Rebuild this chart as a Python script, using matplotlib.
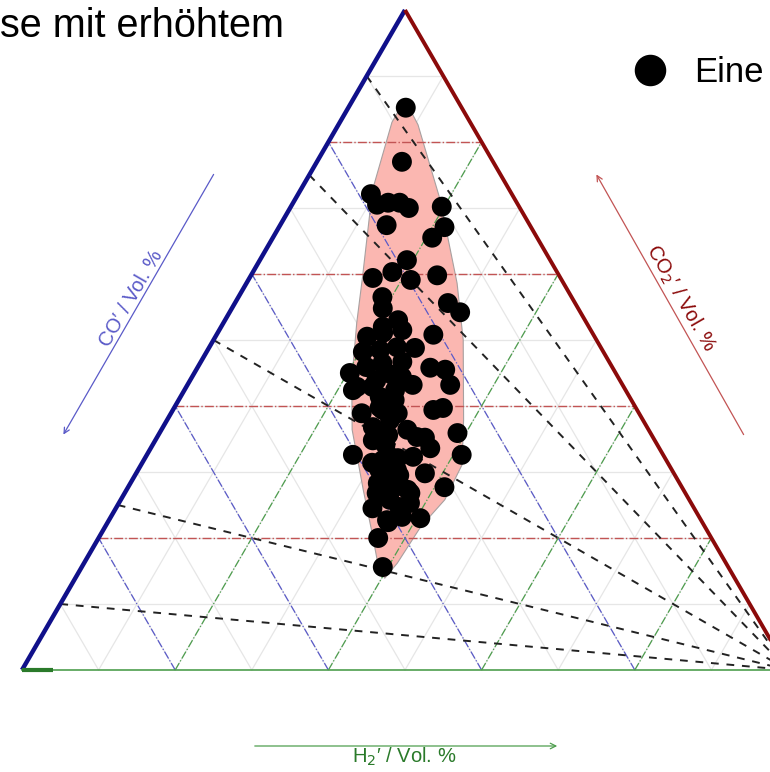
# Ternary plot of gas composition (CO2', CO', H2') with single measurements

import matplotlib
matplotlib.use("Agg")
import matplotlib.pyplot as plt
from matplotlib.patches import Polygon
import numpy as np

plt.rcParams["font.family"] = ["Liberation Sans", "DejaVu Sans"]

COLORS = {
    "co": "#10108a",
    "co_light": "#5a5ac8",
    "co2": "#8b0a0a",
    "co2_light": "#c25454",
    "h2": "#4e9e4e",
    "h2_dark": "#2a7a2a",
    "grid": "#e6e6e6",
    "hull": "#fbb7b1",
}

# single measurements, volume fractions in %
co2_vals = [85.2, 77.0, 72.1, 70.5, 70.8, 70.8, 70.0, 70.2, 67.1, 65.5, 67.4, 62.1,
            60.3, 59.4, 59.1, 59.8, 56.5, 54.8, 55.6, 54.2, 53.0, 52.0,
            50.5, 51.1, 51.5, 50.8, 48.2, 48.5, 48.9, 48.8, 45.0, 45.9, 46.5, 46.7,
            45.8, 45.5, 43.2, 43.2, 42.4, 42.4, 42.9, 38.9, 39.8, 38.9, 39.4, 39.7,
            35.9, 32.6, 32.6, 34.8, 35.6, 36.4, 35.2, 33.6, 31.4, 31.8, 32.1, 32.3,
            29.8, 27.7, 28.3, 27.7, 26.8, 24.5, 22.4, 23.2, 23.0, 20.0, 15.6, 27.6,
            29.5, 26.8, 30.3,
            43.9, 44.4, 41.4, 42.9, 39.4, 37.9, 36.8, 35.9, 35.3, 32.3, 27.3, 26.2,
            24.7, 25.3, 22.7, 44.7, 45.2, 40.9, 34.1, 30.3, 29.5, 25.8]
h2_vals = [7.5, 11.1, 9.5, 11.1, 12.4, 13.9, 15.5, 19.7, 21.6, 20.8, 13.9, 19.2,
           18.2, 16.1, 21.2, 24.3, 18.8, 19.7, 27.8, 30.1, 22.6, 21.1,
           19.8, 21.6, 23.9, 28.3, 20.4, 22.5, 24.5, 26.9, 20.3, 22.0, 23.8, 26.3,
           30.4, 32.5, 34.3, 29.4, 27.5, 22.0, 24.3, 24.9, 26.8, 29.6, 34.0, 35.1,
           38.9, 41.1, 26.9, 28.4, 30.0, 32.1, 35.0, 36.5, 30.0, 31.2, 33.0, 34.9,
           37.7, 41.3, 32.3, 34.8, 37.3, 33.5, 36.6, 38.0, 40.5, 36.5, 39.3, 33.3,
           33.2, 32.9, 33.8,
           24.3, 27.4, 26.0, 22.3, 27.4, 29.1, 27.4, 28.3, 33.9, 31.9, 36.7, 34.6,
           36.9, 38.0, 36.3, 26.0, 24.8, 28.2, 30.4, 31.5, 34.5, 35.1]

# outline of the shaded region
hull_co2 = [86.4, 82.6, 71.2, 58.6, 50.0, 37.9, 31.1, 25.8, 21.7, 16.2, 13.9, 15.5,
            20.5, 27.3, 36.4, 43.9, 52.6, 59.5, 72.7, 83.0]
hull_h2 = [6.8, 10.4, 19.0, 27.5, 32.6, 38.7, 41.9, 42.3, 41.2, 40.9, 40.4, 38.8,
           35.5, 30.9, 24.9, 21.1, 17.4, 14.7, 9.4, 6.8]

# CO2' / (CO' + CO2') ratios of the dashed lines from the H2' corner
ratio_lines = [0.1, 0.25, 0.5, 0.75, 0.9]
grid_steps = [10, 20, 30, 40, 50, 60, 70, 80, 90]
major_steps = [20, 40, 60, 80]


def to_xy(co2, h2):
    co2 = np.asarray(co2, dtype=float)
    h2 = np.asarray(h2, dtype=float)
    return h2 + co2 / 2.0, co2 * np.sqrt(3) / 2.0


def tline(ax, co2, h2, **kw):
    x, y = to_xy(co2, h2)
    ax.plot(x, y, **kw)


fig = plt.figure(figsize=(7.7, 7.72), dpi=100)
ax = fig.add_axes([0, 0, 1, 1])
ax.set_xlim(-22 / 7.66, 748 / 7.66)
ax.set_ylim(-102 / 7.621, 670 / 7.621)
ax.axis("off")

# light grid
for k in grid_steps:
    tline(ax, [k, k], [0, 100 - k], color=COLORS["grid"], lw=0.9, zorder=1)
    tline(ax, [0, 100 - k], [k, k], color=COLORS["grid"], lw=0.9, zorder=1)
    tline(ax, [0, 100 - k], [100 - k, 0], color=COLORS["grid"], lw=0.9, zorder=1)

# shaded region
hx, hy = to_xy(hull_co2, hull_h2)
ax.add_patch(Polygon(np.column_stack([hx, hy]), closed=True, facecolor=COLORS["hull"],
                     edgecolor="#a8a0a0", lw=0.8, zorder=2))

# dash-dot lines every 20 %
for k in major_steps:
    tline(ax, [k, k], [0, 100 - k], color=COLORS["co2_light"], lw=1.0, ls="-.", zorder=3)
    tline(ax, [0, 100 - k], [k, k], color=COLORS["h2"], lw=0.9, ls="-.", zorder=3)
    tline(ax, [0, 100 - k], [100 - k, 0], color=COLORS["co_light"], lw=0.9, ls="-.", zorder=3)

# constant CO2'/CO' ratio lines
for r in ratio_lines:
    tline(ax, [100 * r, 0], [0, 100], color="#222222", lw=1.4, ls=(0, (4, 4)), zorder=3)

# triangle edges
tline(ax, [0, 100], [0, 0], color=COLORS["co"], lw=3.2, zorder=4, solid_capstyle="butt")
tline(ax, [100, 0], [0, 100], color=COLORS["co2"], lw=2.8, zorder=4, solid_capstyle="butt")
tline(ax, [0, 0], [0, 100], color=COLORS["h2"], lw=1.2, zorder=4)
tline(ax, [0, 0], [0, 4], color=COLORS["h2_dark"], lw=3.0, zorder=5, solid_capstyle="butt")

# measurements
px, py = to_xy(co2_vals, h2_vals)
ax.scatter(px, py, s=205, c="black", edgecolors="none", zorder=6)


# axis labels with arrows (axes fraction coordinates)
def frac(x, y):
    return x / 770.0, 1 - y / 772.0


ax.annotate("", xy=frac(62, 437), xytext=frac(215, 172), xycoords="axes fraction",
            textcoords="axes fraction",
            arrowprops=dict(arrowstyle="->", color=COLORS["co_light"], lw=0.9))
ax.text(*frac(131, 298), "CO\u2032 / Vol. %", transform=ax.transAxes, rotation=60,
        ha="center", va="center", fontsize=14.5, color=COLORS["co_light"])

ax.annotate("", xy=frac(595, 172), xytext=frac(745, 437), xycoords="axes fraction",
            textcoords="axes fraction",
            arrowprops=dict(arrowstyle="->", color=COLORS["co2_light"], lw=0.9))
ax.text(*frac(681, 298), "CO$_2$\u2032 / Vol. %", transform=ax.transAxes, rotation=-60,
        ha="center", va="center", fontsize=14.5, color=COLORS["co2"])

ax.annotate("", xy=frac(560, 746), xytext=frac(252, 746), xycoords="axes fraction",
            textcoords="axes fraction",
            arrowprops=dict(arrowstyle="->", color=COLORS["h2"], lw=0.9))
ax.text(*frac(404, 763), "H$_2$\u2032 / Vol. %", transform=ax.transAxes,
        ha="center", va="baseline", fontsize=14.5, color=COLORS["h2_dark"])

# title fragment and legend fragment
ax.text(*frac(0, 37), "se mit erhöhtem", transform=ax.transAxes, ha="left",
        va="baseline", fontsize=28.5, color="black")
ax.scatter(*frac(650, 70), s=470, c="black", transform=ax.transAxes, zorder=6)
ax.text(*frac(694, 82), "Eine", transform=ax.transAxes, ha="left", va="baseline",
        fontsize=25, color="black")

fig.savefig("out.png", dpi=100)
